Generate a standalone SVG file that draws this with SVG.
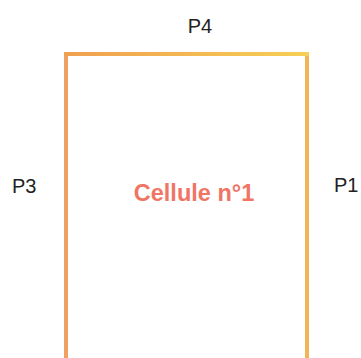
<svg xmlns="http://www.w3.org/2000/svg" width="361" height="358" viewBox="0 0 361 358">
<defs>
<linearGradient id="gTop" x1="66" y1="0" x2="307" y2="0" gradientUnits="userSpaceOnUse">
<stop offset="0" stop-color="#f0a050"/>
<stop offset="1" stop-color="#f6cf55"/>
</linearGradient>
</defs>
<style>
.lbl{font-family:"Liberation Sans",Arial,sans-serif;font-size:20px;fill:#222}
.title{font-family:"Liberation Sans",Arial,sans-serif;font-size:23.5px;font-weight:bold;fill:#f07565}
</style>
<rect width="361" height="358" fill="#ffffff"/>
<g id="cell">
<line x1="66" y1="54" x2="66" y2="358" stroke="#f0a060" stroke-width="4"/>
<line x1="307" y1="54" x2="307" y2="358" stroke="#f2b457" stroke-width="4"/>
<line x1="64" y1="54" x2="309" y2="54" stroke="url(#gTop)" stroke-width="4"/>
<text class="title" x="194" y="201" text-anchor="middle">Cellule n°1</text>
</g>
<g id="labels">
<text class="lbl" x="200" y="33" text-anchor="middle">P4</text>
<text class="lbl" x="12" y="193">P3</text>
<text class="lbl" x="334" y="192">P1</text>
</g>
</svg>
